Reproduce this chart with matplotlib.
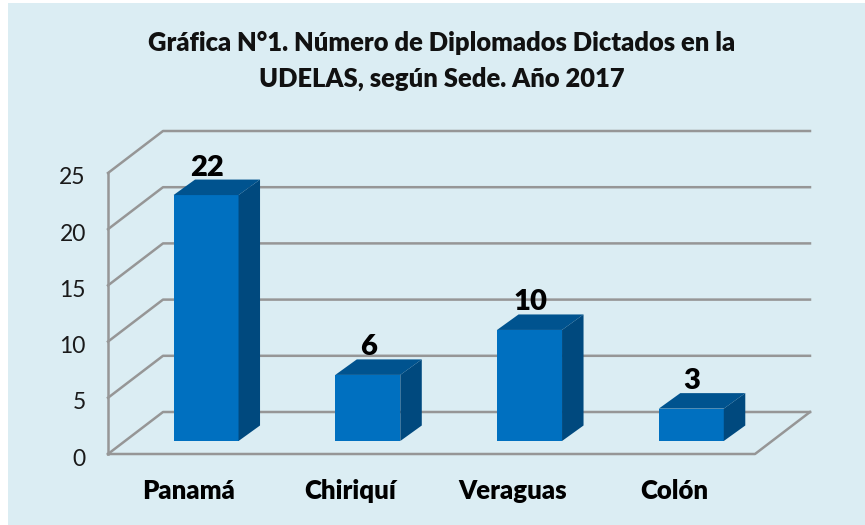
import matplotlib
matplotlib.use("Agg")
import matplotlib.pyplot as plt
from matplotlib.patches import Polygon, Rectangle
from matplotlib.transforms import ScaledTranslation

categories = ["Panamá", "Chiriquí", "Veraguas", "Colón"]
values = [22, 6, 10, 3]
y_ticks = [0, 5, 10, 15, 20, 25]
title = "Gráfica N°1. Número de Diplomados Dictados en la\nUDELAS, según Sede. Año 2017"

W, H = 865, 525
BG = "#DBEDF3"
GRID = "#969696"
FRONT, TOP, SIDE = "#0070C0", "#00538F", "#00497E"
plt.rcParams["font.family"] = ["Lato", "DejaVu Sans"]

fig = plt.figure(figsize=(W / 100, H / 100), dpi=100, facecolor="white")
fig.add_artist(Rectangle((8 / W, 0), 1 - 8 / W, 1 - 3 / H, transform=fig.transFigure,
                         fc=BG, ec="none", zorder=-10))
ax = fig.add_axes([108 / W, 1 - 454 / H, 647 / W, 281 / H])
ax.set_xlim(0, len(categories))
ax.set_ylim(0, 25)
ax.patch.set_visible(False)
for s in ax.spines.values():
    s.set_visible(False)

# depth of the 3-D floor and of the bars, in data units
DX, DY = 55 / 161.75, 42 / 11.24
BX, BY = 21.5 / 161.75, 15.5 / 11.24
OX, OY = 17 / 161.75, 13 / 11.24   # bar front offset from the front plane
BW = 65 / 161.75
lw = 1.8
line = dict(color=GRID, lw=lw, clip_on=False, solid_capstyle="projecting", zorder=1)

n = len(categories)
for t in y_ticks:
    ax.plot([0, DX, n + DX], [t, t + DY, t + DY], **line)
ax.plot([0, 0], [0, 25], **line)
ax.plot([0, n, n + DX], [0, 0, DY], **line)

for i, v in enumerate(values):
    x0 = i + 0.5 - BW / 2 + OX + 0.001
    x1 = x0 + BW
    y0 = OY
    y1 = v + OY - 0.12
    ax.add_patch(Polygon([(x0, y0), (x1, y0), (x1, y1), (x0, y1)], fc=FRONT, ec="none", zorder=3, clip_on=False))
    ax.add_patch(Polygon([(x0, y1), (x1, y1), (x1 + BX, y1 + BY), (x0 + BX, y1 + BY)], fc=TOP, ec="none", zorder=3, clip_on=False))
    ax.add_patch(Polygon([(x1, y0), (x1 + BX, y0 + BY), (x1 + BX, y1 + BY), (x1, y1)], fc=SIDE, ec="none", zorder=3, clip_on=False))
    ax.text((x0 + x1) / 2 + 0.005, y1 + BY + 1.07, str(v), ha="center", va="center",
            fontsize=21, fontweight=800, color="black", zorder=4)

ax.set_yticks(y_ticks)
ax.tick_params(axis="y", length=0, pad=16, labelsize=16.5, labelcolor="#1a1a1a")
shift = ScaledTranslation(0, -3 / 100, fig.dpi_scale_trans)
for lab in ax.get_yticklabels():
    lab.set_transform(lab.get_transform() + shift)
ax.set_xticks([i + 0.5 for i in range(n)])
ax.set_xticklabels(categories, fontsize=18.5, fontweight=800, color="black")
ax.tick_params(axis="x", length=0, pad=18)

fig.text(442 / W, 1 - 61 / H, title, ha="center", va="center", fontsize=18.4,
         fontweight=800, color="#111111", linespacing=1.6)
fig.savefig("out.png", dpi=100, facecolor="white")
